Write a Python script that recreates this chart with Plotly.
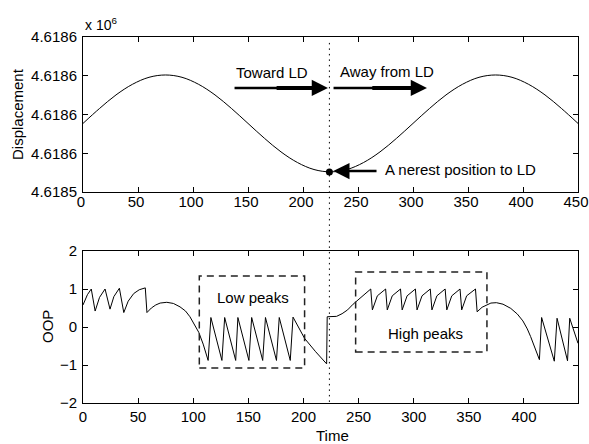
import plotly.graph_objects as go

# ---------------- data ----------------
disp_time = [0, 15, 30, 45, 60, 75, 90, 105, 120, 135, 150, 165, 180, 195, 210, 225,
             240, 255, 270, 285, 300, 315, 330, 345, 360, 375, 390, 405, 420, 435, 450]
displacement = [4.6185754, 4.6185831, 4.6185901, 4.6185956, 4.6185992, 4.6186004,
                4.6185992, 4.6185956, 4.6185901, 4.6185831, 4.6185754, 4.6185677,
                4.6185607, 4.6185552, 4.6185516, 4.6185504, 4.6185516, 4.6185552,
                4.6185607, 4.6185677, 4.6185754, 4.6185831, 4.6185901, 4.6185956,
                4.6185992, 4.6186004, 4.6185992, 4.6185956, 4.6185901, 4.6185831,
                4.6185754]

oop_time = [0, 4, 7.5, 11, 15, 20, 24.5, 28, 33, 37, 41, 46, 51, 56.5, 58,
            62, 66, 70, 76, 82, 88, 93, 97, 101, 105, 109, 113.5,
            116, 126, 128.5, 138.5, 140.5, 150.5, 153, 163, 165.5, 175.5, 178, 188, 190.5,
            201, 211, 221, 221.5, 230, 235, 240, 245, 250, 255, 261,
            262.5, 267, 274.5, 276, 280.5, 288, 289.5, 294, 301.5, 303, 307.5, 315,
            316.5, 321, 328.5, 330, 334.5, 342, 343.5, 348, 356, 357.5,
            362, 366, 370, 375, 381, 388, 394, 399, 403, 406, 410, 414,
            416, 427.5, 430, 439.5, 441.5, 449]
oop_values = [0.58, 0.85, 1.0, 0.42, 0.78, 1.0, 0.47, 0.8, 1.02, 0.38, 0.68, 0.88, 0.98, 1.03, 0.38,
              0.5, 0.58, 0.63, 0.65, 0.62, 0.53, 0.42, 0.27, 0.08, -0.14, -0.45, -0.88,
              0.25, -0.88, 0.25, -0.88, 0.25, -0.88, 0.25, -0.88, 0.25, -0.88, 0.25, -0.88, 0.26,
              -0.3, -0.65, -0.97, 0.27, 0.28, 0.35, 0.45, 0.6, 0.73, 0.87, 1.0,
              0.45, 0.82, 1.0, 0.45, 0.82, 1.0, 0.45, 0.82, 1.0, 0.45, 0.82, 1.0,
              0.45, 0.82, 1.0, 0.45, 0.82, 1.0, 0.45, 0.82, 1.0, 0.40,
              0.52, 0.58, 0.63, 0.64, 0.6, 0.49, 0.34, 0.16, -0.05, -0.25, -0.55, -0.86,
              0.25, -0.9, 0.23, -0.89, 0.23, -0.43]

top_xticks = [0, 50, 100, 150, 200, 250, 300, 350, 400, 450]
top_yticks = [4.61854, 4.61856, 4.61858, 4.61860, 4.61862]
top_yticktext = ["4.6185", "4.6186", "4.6186", "4.6186", "4.6186"]
bottom_xticks = [0, 50, 100, 150, 200, 250, 300, 350, 400]
bottom_yticks = [-2, -1, 0, 1, 2]

ld_time = 224
nearest_disp = 4.6185503
low_box = [105.5, 201, -1.08, 1.34]
high_box = [247.3, 366.4, -0.658, 1.447]

# ---------------- figure ----------------
FONT = "Liberation Sans, Arial, Helvetica, sans-serif"
fig = go.Figure()

fig.add_trace(go.Scatter(x=disp_time, y=displacement, mode="lines",
                         line=dict(color="black", width=1, shape="spline", smoothing=1.0),
                         xaxis="x", yaxis="y", showlegend=False, hoverinfo="skip"))
fig.add_trace(go.Scatter(x=[ld_time], y=[nearest_disp], mode="markers",
                         marker=dict(color="black", size=7),
                         xaxis="x", yaxis="y", showlegend=False, hoverinfo="skip"))
fig.add_trace(go.Scatter(x=oop_time, y=oop_values, mode="lines",
                         line=dict(color="black", width=1),
                         xaxis="x2", yaxis="y2", showlegend=False, hoverinfo="skip"))

axis_common = dict(showline=True, linecolor="black", linewidth=1, mirror="ticks",
                   ticks="inside", ticklen=5, tickcolor="black", tickwidth=1,
                   showgrid=False, zeroline=False, automargin=False,
                   ticklabeloverflow="allow",
                   tickfont=dict(family=FONT, size=15, color="black"))

fig.update_layout(
    width=589, height=444,
    margin=dict(l=83, r=11, t=37, b=41),
    paper_bgcolor="white", plot_bgcolor="white",
    font=dict(family=FONT, size=15, color="black"),
    xaxis=dict(domain=[0, 1], range=[0, 450], tickvals=top_xticks, anchor="y",
               ticklabelstandoff=-4, ticklabelshift=-2, **axis_common),
    yaxis=dict(domain=[0.5765, 1], range=[top_yticks[0], top_yticks[-1]],
               tickvals=top_yticks, ticktext=top_yticktext, anchor="x",
               ticklabelstandoff=2, **axis_common),
    xaxis2=dict(domain=[0, 1], range=[0, 449], tickvals=bottom_xticks, anchor="y2",
                ticklabelstandoff=0, **axis_common),
    yaxis2=dict(domain=[0, 0.4153], range=[-2, 2], tickvals=bottom_yticks, anchor="x2",
                ticklabelstandoff=2, **axis_common),
)

# dotted vertical line through both panels
fig.add_shape(type="line", xref="x", yref="paper", x0=ld_time, x1=ld_time,
              y0=0.003, y1=0.986, line=dict(color="black", width=1, dash="1.5px,4px"))

# dashed boxes
for b in (low_box, high_box):
    fig.add_shape(type="rect", xref="x2", yref="y2", x0=b[0], x1=b[1], y0=b[2], y1=b[3],
                  line=dict(color="#222", width=1.5, dash="7px,5px"))

# thicker parts of the arrows
arrow_y = 4.6185937
fig.add_shape(type="line", xref="x", yref="y", x0=176, x1=212, y0=arrow_y, y1=arrow_y,
              line=dict(color="black", width=4))
fig.add_shape(type="line", xref="x", yref="y", x0=263, x1=300, y0=arrow_y, y1=arrow_y,
              line=dict(color="black", width=4))

ann = []
def arrow(x, y, ax, ay, xr="x", yr="y", w=2.5):
    ann.append(dict(x=x, y=y, ax=ax, ay=ay, xref=xr, yref=yr, axref=xr, ayref=yr,
                    text="", showarrow=True, arrowhead=2, arrowsize=1.3, arrowwidth=w,
                    arrowcolor="black", standoff=0))

arrow(222.7, arrow_y, 136.4, arrow_y)
arrow(312.7, arrow_y, 226.4, arrow_y)
arrow(227.5, 4.6185508, 268.2, 4.6185508, w=2.5)

def text(x, y, s, xr="x", yr="y", xa="center", size=15, angle=0):
    ann.append(dict(x=x, y=y, xref=xr, yref=yr, text=s, showarrow=False, xanchor=xa,
                    yanchor="middle", textangle=angle,
                    font=dict(family=FONT, size=size, color="black")))

text(171.4, 4.6186017, "Toward LD")
text(276.8, 4.6186022, "Away from LD")
text(272.7, 4.6185514, "A nerest position to LD", xa="left")
text(154.5, 0.776, "Low peaks", "x2", "y2")
text(310.5, -0.184, "High peaks", "x2", "y2")
text(-0.1333, 0.7896, "Displacement", "paper", "paper", angle=-90)
text(-0.0707, 0.2077, "OOP", "paper", "paper", angle=-90)
text(0.505, -0.0885, "Time", "paper", "paper")
text(0.0, 1.0355, "x 10<sup>6</sup>", "paper", "paper", xa="left", size=14)

fig.update_layout(annotations=ann)
fig.write_html("out.html", config={"displayModeBar": False},
               post_script="document.body.style.margin='0';document.body.style.padding='0';")
